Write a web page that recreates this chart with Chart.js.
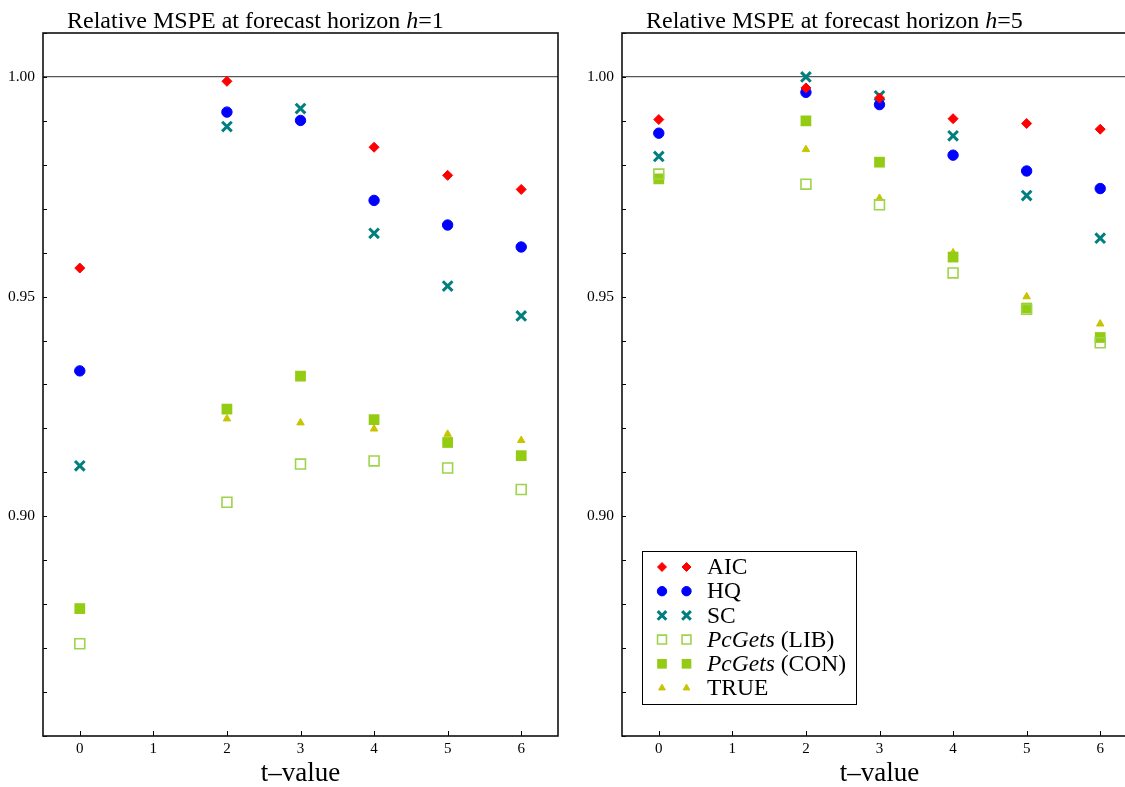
<!DOCTYPE html>
<html>
<head>
<meta charset="utf-8">
<script src="https://cdn.jsdelivr.net/npm/chart.js@4.4.0/dist/chart.umd.min.js"></script>
<style>
  html, body { margin: 0; padding: 0; background: #fff; overflow: hidden; width: 1125px; height: 787px; }
  canvas { position: absolute; top: 0; }
  #c1 { left: 0; }
  #c2 { left: 579px; }
</style>
</head>
<body>
<canvas id="c1" width="580" height="787"></canvas>
<canvas id="c2" width="580" height="787"></canvas>
<script>
// t-values on the x axis (no results at t = 1)
const tValues = [0, 1, 2, 3, 4, 5, 6];

// Relative MSPE, horizon h=1
const aicH1  = [0.9565, null, 0.9990, null,   0.9840, 0.9776, 0.9744];
const hqH1   = [0.9331, null, 0.9920, 0.9901, 0.9719, 0.9663, 0.9613];
const scH1   = [0.9115, null, 0.9887, 0.9928, 0.9644, 0.9524, 0.9456];
const libH1  = [0.8710, null, 0.9032, 0.9119, 0.9126, 0.9110, 0.9061];
const conH1  = [0.8790, null, 0.9244, 0.9319, 0.9220, 0.9168, 0.9138];
const trueH1 = [null,   null, 0.9222, 0.9213, 0.9199, 0.9187, 0.9173];

// Relative MSPE, horizon h=5
const aicH5  = [0.9903, null, 0.9975, 0.9952, 0.9905, 0.9894, 0.9881];
const hqH5   = [0.9872, null, 0.9965, 0.9937, 0.9822, 0.9786, 0.9746];
const scH5   = [0.9819, null, 1.0000, 0.9957, 0.9866, 0.9730, 0.9633];
const libH5  = [0.9779, null, 0.9756, 0.9709, 0.9554, 0.9471, 0.9395];
const conH5  = [0.9768, null, 0.9900, 0.9806, 0.9590, 0.9474, 0.9407];
const trueH5 = [null,   null, 0.9835, 0.9724, 0.9600, 0.9500, 0.9438];

const yMin = 0.85, yMax = 1.01;
const yLabels = [0.90, 0.95, 1.00];

const serif = "'Liberation Serif', 'Times New Roman', serif";
Chart.defaults.font.family = serif;
Chart.defaults.color = '#000';

// marker styles for each series (also used by the legend)
const series = [
  { name: [['AIC', '']],            style: { pointStyle: 'rectRot',  radius: 5,   backgroundColor: '#ff0000', borderColor: '#ff0000', borderWidth: 1 } },
  { name: [['HQ', '']],             style: { pointStyle: 'circle',   radius: 5.2, backgroundColor: '#0000ff', borderColor: '#0000ff', borderWidth: 1 } },
  { name: [['SC', '']],             style: { pointStyle: 'crossRot', radius: 6.8, backgroundColor: '#007f7f', borderColor: '#007f7f', borderWidth: 3 } },
  { name: [['PcGets', 'italic'], [' (LIB)', '']], style: { pointStyle: 'rect', radius: 7,   backgroundColor: 'rgba(255,255,255,0)', borderColor: '#9ed44a', borderWidth: 1.6 } },
  { name: [['PcGets', 'italic'], [' (CON)', '']], style: { pointStyle: 'rect', radius: 7.6, backgroundColor: '#94cc14', borderColor: '#94cc14', borderWidth: 0 } },
  { name: [['TRUE', '']],           style: { pointStyle: 'triangle', radius: 4.3, backgroundColor: '#c8c400', borderColor: '#c8c400', borderWidth: 1 } }
];

function toPoints(values) {
  return tValues.map((t, i) => ({ x: t, y: values[i] })).filter(p => p.y !== null);
}

function mixedText(ctx, parts, x, y, size) {
  parts.forEach(([txt, st]) => {
    ctx.font = (st ? st + ' ' : '') + size + 'px ' + serif;
    ctx.fillText(txt, x, y);
    x += ctx.measureText(txt).width;
  });
}

// frame, inward ticks, panel title and (optionally) the legend box
const framePlugin = {
  id: 'frame',
  afterDraw(chart, args, opts) {
    const { ctx, chartArea: a, scales } = chart;
    ctx.save();
    ctx.strokeStyle = '#000';
    ctx.lineWidth = 1;
    ctx.beginPath();
    scales.y.ticks.forEach(t => {
      const y = Math.round(scales.y.getPixelForValue(t.value)) + 0.5;
      ctx.moveTo(a.left, y); ctx.lineTo(a.left + 4, y);
    });
    scales.x.ticks.forEach(t => {
      const x = Math.round(scales.x.getPixelForValue(t.value)) + 0.5;
      ctx.moveTo(x, a.bottom); ctx.lineTo(x, a.bottom - 5);
    });
    ctx.stroke();

    ctx.lineWidth = 1.6;
    ctx.strokeStyle = '#111';
    ctx.strokeRect(a.left, a.top, a.right - a.left, a.bottom - a.top);

    ctx.fillStyle = '#000';
    ctx.textBaseline = 'alphabetic';
    ctx.textAlign = 'left';
    mixedText(ctx, opts.title, a.left + 24, a.top - 5, 24);

    if (opts.legend) {
      const bx = a.left + 20, bw = 214, bh = 153, by = a.bottom - 32 - bh;
      ctx.fillStyle = '#fff';
      ctx.fillRect(bx, by, bw, bh);
      ctx.lineWidth = 1;
      ctx.strokeStyle = '#000';
      ctx.strokeRect(bx + 0.5, by + 0.5, bw, bh);
      series.forEach((s, i) => {
        const y = by + 16 + i * 24.2;
        [bx + 20, bx + 44.5].forEach(x => {
          ctx.fillStyle = s.style.backgroundColor;
          ctx.strokeStyle = s.style.borderColor;
          ctx.lineWidth = s.style.borderWidth;
          Chart.helpers.drawPoint(ctx, { pointStyle: s.style.pointStyle, radius: s.style.radius * 0.9, borderWidth: s.style.borderWidth, rotation: 0 }, x, y);
        });
        ctx.fillStyle = '#000';
        ctx.textBaseline = 'middle';
        mixedText(ctx, s.name, bx + 65, y + 1, 23.5);
      });
    }
    ctx.restore();
  }
};

function makeChart(id, data, horizon, legend) {
  const datasets = data.map((vals, i) => Object.assign({
    label: series[i].name.map(p => p[0]).join(''),
    data: toPoints(vals),
    pointRadius: series[i].style.radius,
    pointHoverRadius: series[i].style.radius,
    pointBorderWidth: series[i].style.borderWidth
  }, series[i].style));

  return new Chart(document.getElementById(id), {
    type: 'scatter',
    data: { datasets },
    plugins: [framePlugin],
    options: {
      responsive: false,
      animation: false,
      layout: { padding: { top: 33, right: 22, left: 0, bottom: 0 } },
      plugins: {
        legend: { display: false },
        tooltip: { enabled: false },
        frame: {
          title: [['Relative MSPE at forecast horizon ', ''], ['h', 'italic'], ['=' + horizon, '']],
          legend: legend
        }
      },
      scales: {
        x: {
          type: 'linear',
          min: -0.5, max: 6.5,
          afterBuildTicks: s => { s.ticks = tValues.map(v => ({ value: v })); },
          afterFit: s => { s.height = 51; },
          ticks: { font: { size: 15 }, padding: 4, maxRotation: 0, autoSkip: false },
          grid: { display: false, drawTicks: false },
          border: { display: false },
          title: { display: true, text: 't\u2013value', font: { size: 27, lineHeight: 0.95 }, padding: { top: 0, bottom: 0 } }
        },
        y: {
          type: 'linear',
          min: yMin, max: yMax,
          ticks: {
            stepSize: 0.01,
            autoSkip: false,
            padding: 8,
            font: { size: 15.5 },
            callback: v => yLabels.some(l => Math.abs(l - v) < 1e-6) ? v.toFixed(2) : ''
          },
          afterFit: s => { s.width = 43; },
          grid: {
            drawTicks: false,
            color: c => (c.tick && Math.abs(c.tick.value - 1) < 1e-6) ? '#555' : 'rgba(0,0,0,0)',
            lineWidth: 1.3
          },
          border: { display: false }
        }
      }
    }
  });
}

makeChart('c1', [aicH1, hqH1, scH1, libH1, conH1, trueH1], 1, false);
makeChart('c2', [aicH5, hqH5, scH5, libH5, conH5, trueH5], 5, true);
</script>
</body>
</html>
